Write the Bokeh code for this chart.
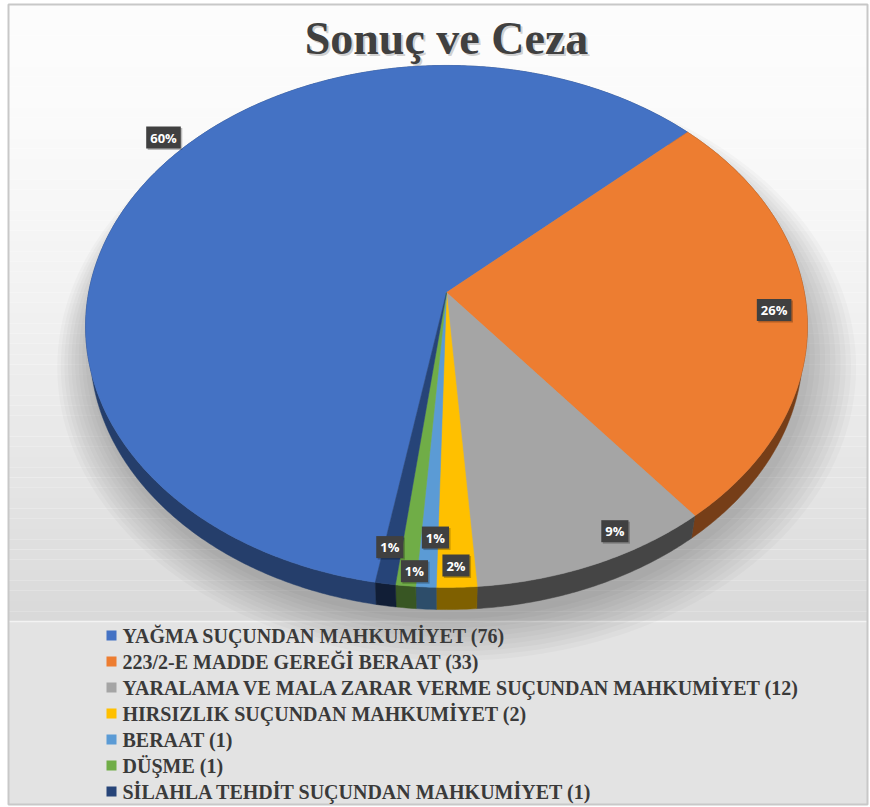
import math
import numpy as np
from bokeh.plotting import figure
from bokeh.models import Range1d, ColumnDataSource
from bokeh.core.properties import value
from bokeh.embed import file_html
from bokeh.resources import INLINE

# ---------------- data ----------------
title_text = "Sonuç ve Ceza"
categories = [
    "YAĞMA SUÇUNDAN MAHKUMİYET",
    "223/2-E MADDE GEREĞİ BERAAT",
    "YARALAMA VE MALA ZARAR VERME SUÇUNDAN MAHKUMİYET",
    "HIRSIZLIK SUÇUNDAN MAHKUMİYET",
    "BERAAT",
    "DÜŞME",
    "SİLAHLA TEHDİT SUÇUNDAN MAHKUMİYET",
]
counts = [76, 33, 12, 2, 1, 1, 1]
colors = ["#4472C4", "#ED7D31", "#A5A5A5", "#FFC000", "#5B9BD5", "#70AD47", "#264478"]
first_slice_angle = 190  # degrees, clockwise from 12 o'clock

# ---------------- layout / style ----------------
label_r = [1.08, 0.91, 0.93, 0.935, 0.85, 0.955, 0.89]
label_dang = [8.8, 0.0, -5.4, 0.0, -1.0, -1.0, 0.5]
side_dark = [0.55, 0.5, 0.42, 0.5, 0.5, 0.5, 0.45]

W, Hh = 870, 807
CX, CY = 446, 292
D = 5.36
SINB = 0.717
COSB = math.sqrt(1 - SINB ** 2)
F = 1918.0
THICK = 0.093
BL, BR, BT, BB = 8, 867, 4, 804   # chart border box
LEG_TOP = 621


def proj(theta_deg, r, z=0.0):
    t = np.radians(theta_deg)
    u = r * np.sin(t)
    v = r * np.cos(t)
    depth = D + v * COSB - z * SINB
    x = CX + F * u / depth
    y = CY - F * (v * SINB + z * COSB) / depth
    return x, y


def darken(hexc, f):
    h = hexc.lstrip("#")
    r, g, b = (int(h[i:i + 2], 16) for i in (0, 2, 4))
    return "#%02x%02x%02x" % (int(r * f), int(g * f), int(b * f))


total = sum(counts)
# percentage labels (largest remainder so they sum to 100)
raw = [100.0 * c / total for c in counts]
fl = [int(math.floor(x)) for x in raw]
rem = sorted(range(len(raw)), key=lambda i: -(raw[i] - fl[i]))
for i in rem[: 100 - sum(fl)]:
    fl[i] += 1
pct_labels = ["%d%%" % x for x in fl]

starts, ends = [], []
a = first_slice_angle
for c in counts:
    span = 360.0 * c / total
    starts.append(a)
    ends.append(a + span)
    a += span

p = figure(width=W, height=Hh, x_range=Range1d(0, W), y_range=Range1d(Hh, 0),
           output_backend="svg", toolbar_location=None, min_border=0,
           x_axis_type=None, y_axis_type=None)
p.grid.visible = False
p.background_fill_color = "#ffffff"
p.border_fill_color = "#ffffff"
p.outline_line_color = None

# background gradient (chart area)
nb = 60
edges = np.linspace(BT, LEG_TOP, nb + 1)
bg_cols = []
for i in range(nb):
    t = (i + 0.5) / nb
    c = int(253 - 36 * t ** 1.6)
    bg_cols.append("#%02x%02x%02x" % (c, c, c))
p.quad(left=BL, right=BR, top=edges[:-1], bottom=edges[1:], fill_color=bg_cols,
       line_color=None)
# legend band
p.quad(left=BL, right=BR, top=LEG_TOP, bottom=BB, fill_color="#e3e3e3", line_color=None)
p.segment(x0=BL, x1=BR, y0=LEG_TOP, y1=LEG_TOP, line_color="#f3f3f3", line_width=1.5)
# border
p.quad(left=BL, right=BR, top=BT, bottom=BB, fill_color=None, line_color="#c8c8c8",
       line_width=2)

# soft shadow beneath the pie
th = np.linspace(0, 360, 241)
for i in range(10):
    r = 1.0 + 0.012 * (i + 1)
    sx, sy = proj(th, r, -THICK - 0.01)
    p.patch(sx + 3 + i * 0.8, sy + 3 + i * 0.5, fill_color="black", fill_alpha=0.025, line_color=None)

# side walls
side_xs, side_ys, side_cols = [], [], []
for i in range(len(counts)):
    n = max(4, int((ends[i] - starts[i]) / 0.5) + 2)
    tt = np.linspace(starts[i], ends[i], n)
    tx, ty = proj(tt, 1.0, 0.0)
    bx, by = proj(tt[::-1], 1.0, -THICK)
    side_xs.append(np.concatenate([tx, bx]))
    side_ys.append(np.concatenate([ty, by]))
    side_cols.append(darken(colors[i], side_dark[i]))
p.patches(xs=side_xs, ys=side_ys, fill_color=side_cols, line_color=side_cols, line_width=0.5)

# top faces
top_xs, top_ys = [], []
for i in range(len(counts)):
    n = max(4, int((ends[i] - starts[i]) / 0.5) + 2)
    tt = np.linspace(starts[i], ends[i], n)
    tx, ty = proj(tt, 1.0, 0.0)
    top_xs.append(np.concatenate([[CX], tx]))
    top_ys.append(np.concatenate([[CY], ty]))
src = ColumnDataSource(dict(xs=top_xs, ys=top_ys, color=colors, name=categories))
p.patches(xs="xs", ys="ys", fill_color="color", line_color="color", line_width=0.5, source=src)

# data labels
lx, ly = [], []
for i in range(len(counts)):
    mid = (starts[i] + ends[i]) / 2 + label_dang[i]
    x, y = proj(mid, label_r[i], 0.0)
    lx.append(float(x))
    ly.append(float(y))
p.text(x=[v + 1.5 for v in lx], y=[v + 1.5 for v in ly], text=pct_labels,
       text_font=value("Open Sans"), text_font_style="bold", text_font_size="13px",
       text_color="#000000", text_alpha=0.0, text_align="center", text_baseline="middle",
       background_fill_color="#000000", background_fill_alpha=0.25, padding=(4, 2))
p.text(x=lx, y=ly, text=pct_labels, text_font=value("Open Sans"), text_font_style="bold",
       text_font_size="13px", text_color="#ffffff", text_align="center",
       text_baseline="middle", background_fill_color="#404040", padding=(4, 2))

# title
p.text(x=[CX + 2], y=[40], text=[title_text], text_font=value("Liberation Serif"),
       text_font_style="bold", text_font_size="46px", text_color="#9a9a9a", text_alpha=0.45,
       text_align="center", text_baseline="middle")
p.text(x=[CX], y=[38], text=[title_text], text_font=value("Liberation Serif"),
       text_font_style="bold", text_font_size="46px", text_color="#404040",
       text_align="center", text_baseline="middle")

# legend
leg_y = [635 + 26.0 * i for i in range(len(categories))]
leg_text = ["%s (%d)" % (c, n) for c, n in zip(categories, counts)]
p.scatter(x=[111] * len(categories), y=leg_y, marker="square", size=10,
          fill_color=colors, line_color=None)
p.text(x=[122] * len(categories), y=leg_y, text=leg_text,
       text_font=value("Liberation Serif"), text_font_style="bold", text_font_size="20px",
       text_color="#3a3a3a", text_align="left", text_baseline="middle")

open("out.html", "w").write(file_html(p, INLINE))
